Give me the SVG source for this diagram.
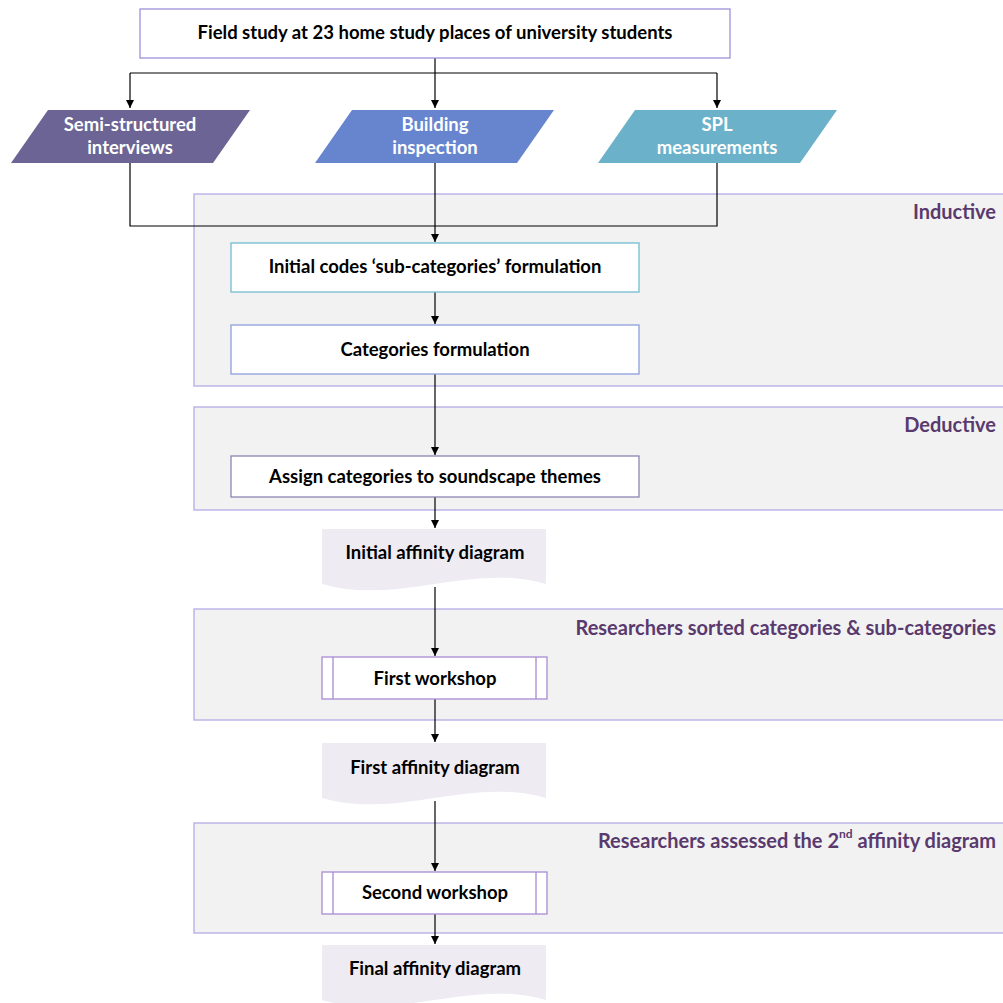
<svg xmlns="http://www.w3.org/2000/svg" width="1003" height="1003" viewBox="0 0 1003 1003">
  <defs>
    <marker id="arrow" viewBox="0 0 10 10" refX="10" refY="5" markerWidth="8" markerHeight="8" markerUnits="userSpaceOnUse" orient="auto">
      <path d="M0,0 L10,5 L0,10 z" fill="#000"/>
    </marker>
    <style>
      text { font-family: Lato, "Open Sans", "Liberation Sans", sans-serif; font-weight: bold; font-size: 18.5px; }
      .lbl { fill: #000; text-anchor: middle; dominant-baseline: central; }
      .wlbl { fill: #fff; text-anchor: middle; dominant-baseline: central; }
      .glbl { fill: #5A3A6E; text-anchor: end; dominant-baseline: central; font-size: 20px; }
      .group { fill: #F2F2F2; stroke: #B7AAE6; stroke-width: 1.3; }
      .box { fill: #fff; stroke-width: 1.3; }
      .doc { fill: #EEEBF3; stroke: none; }
      .conn { fill: none; stroke: #000; stroke-width: 1.2; }
      .conn-a { fill: none; stroke: #000; stroke-width: 1.2; marker-end: url(#arrow); }
    </style>
  </defs>

  <!-- phase panels -->
  <g id="panel-inductive">
    <rect class="group" x="194" y="194" width="820" height="192"/>
    <text class="glbl" x="996" y="211">Inductive</text>
  </g>
  <g id="panel-deductive">
    <rect class="group" x="194" y="407" width="820" height="103"/>
    <text class="glbl" x="996" y="424">Deductive</text>
  </g>
  <g id="panel-sorted">
    <rect class="group" x="194" y="609" width="820" height="111"/>
    <text class="glbl" x="996" y="627">Researchers sorted categories &amp; sub-categories</text>
  </g>
  <g id="panel-assessed">
    <rect class="group" x="194" y="823" width="820" height="110"/>
    <text class="glbl" x="996" y="840">Researchers assessed the 2<tspan font-size="12" dy="-7">nd</tspan><tspan dy="7"> affinity diagram</tspan></text>
  </g>

  <!-- connectors -->
  <g id="connectors">
    <path class="conn" d="M435,58 V73 M130,73 H717"/>
    <path class="conn-a" d="M130,73 V108"/>
    <path class="conn-a" d="M435,73 V108"/>
    <path class="conn-a" d="M717,73 V108"/>
    <path class="conn" d="M130,163 V226 H717 V163"/>
    <path class="conn-a" d="M435,163 V242"/>
    <path class="conn-a" d="M435,292 V324"/>
    <path class="conn-a" d="M435,374 V455"/>
    <path class="conn-a" d="M435,497 V528"/>
    <path class="conn-a" d="M435,587 V656"/>
    <path class="conn-a" d="M435,699 V742"/>
    <path class="conn-a" d="M435,801 V871"/>
    <path class="conn-a" d="M435,914 V944"/>
  </g>

  <!-- nodes -->
  <g id="field-study">
    <rect class="box" x="140" y="9" width="590" height="49" stroke="#9F8FDB"/>
    <text class="lbl" x="435" y="32">Field study at 23 home study places of university students</text>
  </g>
  <g id="interviews">
    <polygon points="48,110 250,110 213,163 11,163" fill="#6B6494"/>
    <text class="wlbl" x="130" y="124">Semi-structured</text>
    <text class="wlbl" x="130" y="147">interviews</text>
  </g>
  <g id="inspection">
    <polygon points="352,110 554,110 517,163 315,163" fill="#6785CF"/>
    <text class="wlbl" x="435" y="124">Building</text>
    <text class="wlbl" x="435" y="147">inspection</text>
  </g>
  <g id="spl">
    <polygon points="635,110 837,110 800,163 598,163" fill="#6BB1C9"/>
    <text class="wlbl" x="717" y="124">SPL</text>
    <text class="wlbl" x="717" y="147">measurements</text>
  </g>
  <g id="initial-codes">
    <rect class="box" x="231" y="243" width="408" height="49" stroke="#72BCD2"/>
    <text class="lbl" x="435" y="266">Initial codes ‘sub-categories’ formulation</text>
  </g>
  <g id="categories">
    <rect class="box" x="231" y="325" width="408" height="49" stroke="#8E9FDD"/>
    <text class="lbl" x="435" y="349">Categories formulation</text>
  </g>
  <g id="assign">
    <rect class="box" x="231" y="456" width="408" height="41" stroke="#8C84B0"/>
    <text class="lbl" x="435" y="476">Assign categories to soundscape themes</text>
  </g>
  <g id="initial-affinity">
    <path class="doc" d="M322,529 H546 V584 C471,562 397,606 322,584 Z"/>
    <text class="lbl" x="435" y="552">Initial affinity diagram</text>
  </g>
  <g id="first-workshop">
    <rect class="box" x="322" y="657" width="225" height="42" stroke="#A98BD3"/>
    <path d="M333,657 V699 M536,657 V699" stroke="#A98BD3" stroke-width="1.3"/>
    <text class="lbl" x="435" y="678">First workshop</text>
  </g>
  <g id="first-affinity">
    <path class="doc" d="M322,743 H546 V798 C471,776 397,820 322,798 Z"/>
    <text class="lbl" x="435" y="767">First affinity diagram</text>
  </g>
  <g id="second-workshop">
    <rect class="box" x="322" y="872" width="225" height="42" stroke="#A98BD3"/>
    <path d="M333,872 V914 M536,872 V914" stroke="#A98BD3" stroke-width="1.3"/>
    <text class="lbl" x="435" y="892">Second workshop</text>
  </g>
  <g id="final-affinity">
    <path class="doc" d="M322,945 H546 V1000 C471,978 397,1022 322,1000 Z"/>
    <text class="lbl" x="435" y="968">Final affinity diagram</text>
  </g>
</svg>
